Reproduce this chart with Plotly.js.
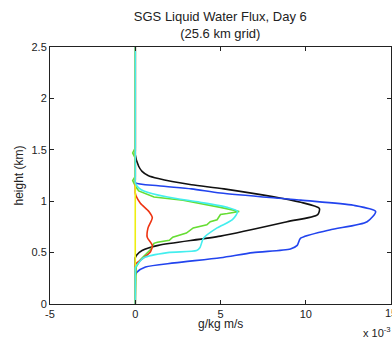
<!DOCTYPE html>
<html><head><meta charset="utf-8">
<script src="https://cdn.plot.ly/plotly-3.0.1.min.js"></script>
<style>html,body{margin:0;padding:0;background:#fff;}#plot{width:392px;height:338px;}</style>
</head><body><div id="plot"></div>
<script>
// values in units of 1e-3 g/kg m/s ; heights in km
const blackY = [0, 0.41, 0.45, 0.48, 0.52, 0.57, 0.66, 0.80, 0.87, 0.93, 0.99, 1.12, 1.16, 1.22, 1.25, 1.29, 1.34, 1.45, 1.49, 2.5];
const blackX = [0, 0, 0, 0.1, 0.4, 1.35, 5.0, 8.9, 10.7, 10.8, 9.7, 5.2, 3.3, 1.35, 0.75, 0.4, 0.2, 0, 0, 0];

const blueY = [0, 0.25, 0.28, 0.31, 0.36, 0.40, 0.45, 0.50, 0.535, 0.57, 0.64, 0.72, 0.80, 0.90, 0.96, 1.01, 1.08, 1.12, 1.15, 1.18, 1.21, 2.5];
const blueX = [0, 0, 0, 0.1, 0.6, 2.3, 5.0, 6.9, 9.1, 9.5, 9.7, 11.4, 13.6, 14.1, 12.8, 9.7, 5.0, 3.3, 1.35, 0, 0, 0];

const cyanY = [0, 0.32, 0.35, 0.38, 0.45, 0.50, 0.52, 0.55, 0.64, 0.74, 0.82, 0.90, 0.94, 0.99, 1.04, 1.10, 1.13, 1.18, 1.21, 2.5];
const cyanX = [0, 0, 0, 0.1, 0.5, 1.9, 3.6, 3.8, 4.0, 4.8, 5.7, 6.0, 5.4, 3.8, 1.9, 0.5, 0.2, 0, 0, 0];

const greenY = [0, 0.36, 0.43, 0.53, 0.59, 0.60, 0.62, 0.65, 0.69, 0.74, 0.77, 0.80, 0.82, 0.87, 0.88, 0.90, 0.94, 1.01, 1.04, 1.10, 1.15, 1.20, 1.24, 1.42, 1.47, 1.52, 2.5];
const greenX = [0, 0.05, 0.3, 0.9, 1.1, 1.3, 2.0, 2.2, 3.0, 3.4, 4.2, 4.4, 4.8, 5.0, 5.4, 6.1, 5.0, 2.8, 1.1, 0.2, 0, -0.15, 0, 0, -0.15, 0, 0];

const redY = [0, 0.35, 0.38, 0.40, 0.45, 0.51, 0.57, 0.65, 0.74, 0.84, 0.90, 0.98, 1.05, 1.08, 1.11, 2.5];
const redX = [0, 0, 0, 0.1, 0.5, 0.9, 1.0, 0.7, 0.75, 1.0, 0.8, 0.3, 0.05, 0, 0, 0];

const yellowY = [0, 2.5];
const yellowX = [0, 0];

const xTicks = [-5, 0, 5, 10, 15];
const yTicks = [0, 0.5, 1, 1.5, 2, 2.5];
const yTickText = ['0', '0.5', '1', '1.5', '2', '2.5'];

function tr(x, y, color, shape) {
  return {x: x, y: y, type: 'scatter', mode: 'lines',
    line: {color: color, width: 1.6, shape: shape || 'spline', smoothing: 0.7},
    hoverinfo: 'skip', showlegend: false};
}
const data = [
  tr(blackX, blackY, '#111111'),
  tr(blueX, blueY, '#2244ee'),
  tr(greenX, greenY, '#66dd33', 'linear'),
  tr(redX, redY, '#ee3311'),
  tr(yellowX, yellowY, '#eeee11', 'linear'),
  tr(cyanX, cyanY, '#44eeee'),
];
const fam = 'Liberation Sans, Arial, sans-serif';
const axisFont = {family: fam, size: 11, color: '#222'};
const lastTick = xTicks[xTicks.length - 1];
const layout = {
  width: 392, height: 338,
  margin: {l: 50, r: 1, t: 47, b: 34},
  paper_bgcolor: '#fff', plot_bgcolor: '#fff',
  font: axisFont,
  title: {text: 'SGS Liquid Water Flux, Day 6<br>(25.6 km grid)', x: 0.562, xanchor: 'center',
          y: 0.938, yanchor: 'top', yref: 'container',
          font: {family: fam, size: 13, color: '#222'}},
  xaxis: {range: [-5, 15], tickvals: xTicks, ticktext: xTicks.map(String), ticks: 'inside', ticklen: 4,
          tickcolor: '#222', showline: true, linecolor: '#222', linewidth: 1, mirror: 'ticks',
          showgrid: false, zeroline: false, tickfont: axisFont, ticklabelstandoff: 0},
  yaxis: {range: [0, 2.5], tickvals: yTicks, ticktext: yTickText, ticks: 'inside', ticklen: 4,
          tickcolor: '#222', showline: true, linecolor: '#222', linewidth: 1, mirror: 'ticks',
          showgrid: false, zeroline: false, tickfont: axisFont,
          title: {text: 'height (km)', standoff: 5, font: {family: fam, size: 12, color: '#222'}}},
  annotations: [
    {text: 'g/kg m/s', xref: 'paper', yref: 'paper', x: 0.5, y: -0.078, xanchor: 'center', yanchor: 'middle',
     showarrow: false, font: {family: fam, size: 12, color: '#222'}},
    {text: String(lastTick), xref: 'x', yref: 'paper', x: lastTick, y: -0.004, xanchor: 'center', yanchor: 'top',
     showarrow: false, font: axisFont},
    {text: 'x 10<sup>-3</sup>', xref: 'paper', yref: 'paper', x: 0.912, y: -0.075,
     xanchor: 'left', yanchor: 'top', showarrow: false,
     font: {family: fam, size: 11, color: '#222'}}]
};
Plotly.newPlot('plot', data, layout, {displayModeBar: false, staticPlot: true});
</script></body></html>
